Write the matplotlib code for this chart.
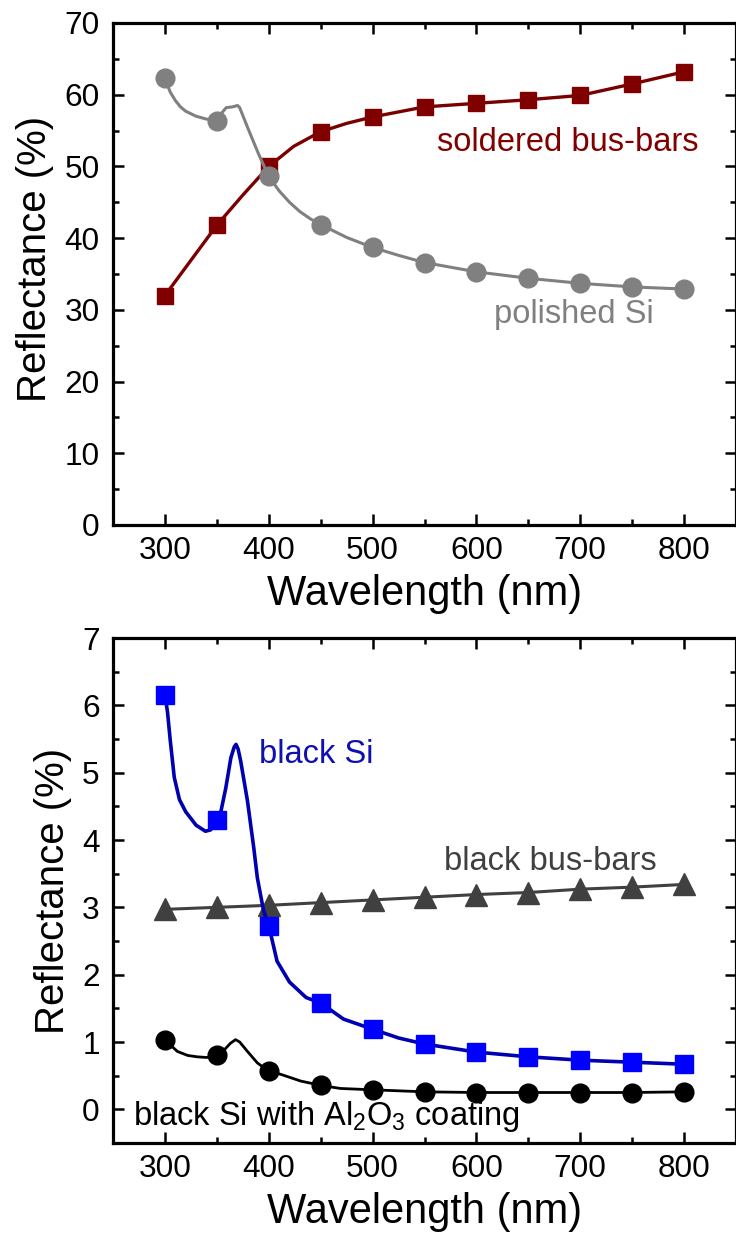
import matplotlib
matplotlib.use("Agg")
import matplotlib.pyplot as plt
from matplotlib.ticker import MultipleLocator

plt.rcParams['font.family'] = ['Liberation Sans', 'DejaVu Sans']
plt.rcParams['mathtext.fontset'] = 'custom'
plt.rcParams['mathtext.rm'] = 'Liberation Sans'
plt.rcParams['mathtext.it'] = 'Liberation Sans'
plt.rcParams['mathtext.default'] = 'regular'

# ---------------- data ----------------
wl_markers = [300, 350, 400, 450, 500, 550, 600, 650, 700, 750, 800]

# top panel
soldered_pts = [32.0, 41.8, 50.0, 54.85, 56.9, 58.3, 58.8, 59.3, 59.9, 61.5, 63.2]
soldered_wl = [300, 350, 375, 400, 424, 450, 475, 500, 550, 600, 650, 700, 750, 800]
soldered_curve = [32.0, 41.8, 46.0, 50.0, 52.8, 54.85, 56.0, 56.9, 58.3, 58.8, 59.3, 59.9, 61.5, 63.2]

polished_pts = [62.3, 56.4, 48.6, 41.9, 38.7, 36.6, 35.3, 34.4, 33.7, 33.2, 32.9]
polished_wl = [300, 305, 310, 315, 320, 330, 340, 350, 355, 359, 365, 370, 372, 380, 390,
               400, 410, 420, 430, 440, 450, 475, 500, 525, 550, 600, 650, 700, 750, 800]
polished_curve = [62.3, 60.4, 59.2, 58.3, 57.7, 57.0, 56.6, 56.4, 57.5, 58.2, 58.3, 58.5, 58.2,
                  55.3, 51.8, 48.6, 46.6, 45.0, 43.7, 42.7, 41.9, 40.1, 38.7, 37.6, 36.6,
                  35.3, 34.4, 33.7, 33.2, 32.9]

# bottom panel
blacksi_pts = [6.16, 4.29, 2.73, 1.58, 1.19, 0.97, 0.85, 0.78, 0.73, 0.70, 0.67]
blacksi_wl = [300, 302.5, 305, 309, 314, 320, 330, 339, 344, 350, 354, 358.6, 363.5,
              366.7, 368.5, 370.5, 373, 379.5, 385.6, 389, 395, 400, 408, 420, 436, 450, 472,
              500, 525, 550, 600, 650, 700, 750, 800]
blacksi_curve = [6.16, 5.9, 5.5, 4.93, 4.6, 4.42, 4.22, 4.13, 4.15, 4.29, 4.43, 4.77,
                 5.22, 5.38, 5.42, 5.35, 5.17, 4.58, 3.88, 3.44, 2.95, 2.73, 2.20, 1.89, 1.66,
                 1.58, 1.34, 1.19, 1.06, 0.97, 0.85, 0.78, 0.73, 0.70, 0.67]

busbar_pts = [2.97, 3.00, 3.03, 3.07, 3.11, 3.15, 3.19, 3.22, 3.27, 3.30, 3.34]

al2o3_pts = [1.03, 0.80, 0.565, 0.356, 0.29, 0.26, 0.25, 0.25, 0.25, 0.25, 0.26]
al2o3_wl = [300, 312, 322, 331, 340, 350, 357, 363, 368, 372, 379.5, 389, 400, 411.5, 430.8,
            450, 469, 500, 550, 600, 650, 700, 750, 800]
al2o3_curve = [1.03, 0.86, 0.80, 0.78, 0.77, 0.80, 0.88, 0.98, 1.035, 1.0, 0.86, 0.69, 0.565,
               0.52, 0.42, 0.356, 0.31, 0.29, 0.26, 0.25, 0.25, 0.25, 0.25, 0.26]

x_ticks = [300, 400, 500, 600, 700, 800]

# ---------------- figure ----------------
W, H = 736, 1237
fig = plt.figure(figsize=(W / 100, H / 100), dpi=100)
left, right = 113 / W, 1.0
ax1 = fig.add_axes([left, 1 - 525 / H, right - left, (525 - 23) / H])
ax2 = fig.add_axes([left, 1 - 1143 / H, right - left, (1143 - 638) / H])

TICK_FS = 22.7
ANN_FS = 23.5
XLAB_FS = 30
YLAB_FS = 29

for ax in (ax1, ax2):
    ax.set_xlim(250, 850)
    ax.set_xticks(x_ticks)
    ax.xaxis.set_minor_locator(MultipleLocator(50))
    for s in ax.spines.values():
        s.set_linewidth(2.3)
    ax.tick_params(which='both', direction='in', top=True, right=True, width=1.8,
                   labelsize=TICK_FS)
    ax.tick_params(which='major', length=7.7)
    ax.tick_params(which='minor', length=4)
    ax.tick_params(axis='x', which='major', pad=8)
    ax.tick_params(axis='y', which='major', pad=9.5)
    ax.set_xlabel('Wavelength (nm)', fontsize=XLAB_FS, labelpad=6)
    ax.set_ylabel('Reflectance (%)', fontsize=YLAB_FS, labelpad=7.5)

ax1.yaxis.label.set_y(0.53)

# top panel
red = '#800000'
grey = '#808080'
ax1.set_ylim(0, 70)
ax1.yaxis.set_major_locator(MultipleLocator(10))
ax1.yaxis.set_minor_locator(MultipleLocator(5))
ax1.plot(soldered_wl, soldered_curve, color='#7a0000', lw=2.4, zorder=2)
ax1.plot(wl_markers, soldered_pts, ls='none', marker='s', ms=12, color=red, zorder=3)
ax1.plot(polished_wl, polished_curve, color=grey, lw=2.2, zorder=4)
ax1.plot(wl_markers, polished_pts, ls='none', marker='o', ms=13.5, color=grey, zorder=5)
ax1.text(562, 52.2, 'soldered bus-bars', color=red, fontsize=ANN_FS, ha='left', va='baseline')
ax1.text(617, 28.2, 'polished Si', color=grey, fontsize=ANN_FS, ha='left', va='baseline')

# bottom panel
dgrey = '#404040'
ax2.set_ylim(-0.5, 7)
ax2.yaxis.set_major_locator(MultipleLocator(1))
ax2.yaxis.set_minor_locator(MultipleLocator(0.5))
ax2.plot(wl_markers, busbar_pts, color=dgrey, lw=2.2, marker='^', ms=16.5, zorder=2)
ax2.plot(blacksi_wl, blacksi_curve, color='#0000b0', lw=2.6, zorder=3)
ax2.plot(wl_markers, blacksi_pts, ls='none', marker='s', ms=12.5, color='#0000ff', zorder=4)
ax2.plot(al2o3_wl, al2o3_curve, color='black', lw=2.0, zorder=5)
ax2.plot(wl_markers, al2o3_pts, ls='none', marker='o', ms=13.5, color='black', zorder=6)
ax2.text(391, 5.15, 'black Si', color='#1010b0', fontsize=ANN_FS, ha='left', va='baseline')
ax2.text(569, 3.55, 'black bus-bars', color=dgrey, fontsize=ANN_FS, ha='left', va='baseline')
ax2.text(269, -0.24, 'black Si with Al$_2$O$_3$ coating', color='black', fontsize=ANN_FS,
         ha='left', va='baseline')

fig.savefig('out.png', dpi=100)
